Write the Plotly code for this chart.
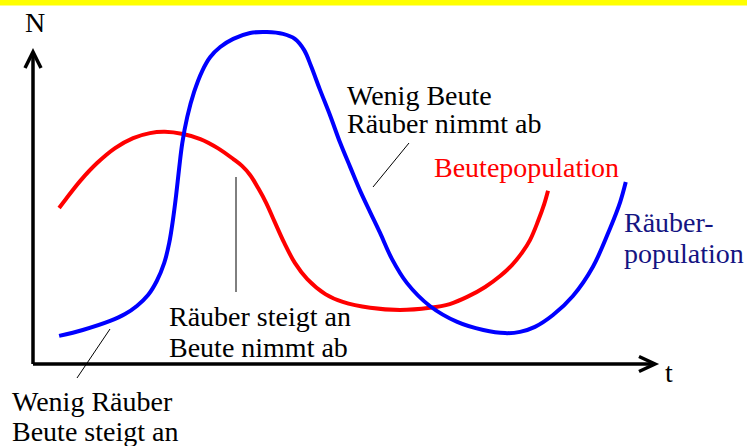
import plotly.graph_objects as go

# Beute (prey) population over time, arbitrary units
beute_t = [4.2, 5.3, 7.6, 10.3, 13.2, 16.1, 18.8, 21.2, 24.1, 26.9, 29.7, 32.2, 33.6, 34.9,
           36.2, 37.5, 38.8, 40.4, 42.1, 44.1, 47.0, 49.8, 54.2, 59.0, 63.8, 67.0, 69.8, 72.7,
           75.1, 77.0, 78.6, 79.9, 81.2, 82.2, 82.8]
beute_n = [50.0, 52.9, 58.7, 64.4, 69.2, 72.4, 74.0, 74.4, 73.7, 72.1, 69.2, 65.7, 63.5, 60.6,
           56.4, 51.6, 45.8, 38.8, 32.4, 27.2, 22.4, 19.9, 18.0, 17.3, 18.0, 19.2, 21.5, 24.7,
           28.2, 31.7, 35.6, 39.7, 45.8, 51.3, 55.5]

# Räuber (predator) population over time, arbitrary units
raeuber_t = [4.2, 8.0, 12.4, 14.8, 16.7, 18.5, 19.9, 21.1, 21.9, 22.5, 23.0, 23.5, 24.0, 24.8,
             25.9, 27.2, 28.5, 30.1, 32.2, 34.9, 37.6, 40.2, 42.1, 43.6, 44.7, 46.1, 47.8, 49.4,
             51.0, 52.6, 54.2, 55.8, 57.7, 60.1, 63.8, 68.2, 72.4, 75.9, 78.3, 80.7, 83.6, 86.8,
             90.0, 92.8, 94.4, 95.3]
raeuber_n = [9.0, 10.9, 13.8, 16.0, 18.6, 22.1, 26.6, 32.4, 38.8, 46.2, 53.9, 62.8, 70.8, 79.2,
             87.2, 93.9, 98.4, 101.6, 104.2, 106.1, 106.4, 105.8, 104.2, 100.6, 95.5, 88.1, 79.5,
             70.8, 63.1, 55.5, 48.7, 42.0, 33.7, 26.0, 18.6, 13.5, 10.9, 9.9, 10.3, 11.9, 15.7,
             21.8, 31.1, 43.6, 51.9, 58.3]

W, H = 747, 446
# origin of the N/t diagram in page pixels and pixels per unit
X0, Y0 = 33, 364
SX, SY = 6.22, 3.12

FONT = "Liberation Serif, Times New Roman, serif"
FS = 28


def to_data(xp, yp):
    return (xp - X0) / SX, (Y0 - yp) / SY


fig = go.Figure()

fig.add_trace(go.Scatter(x=beute_t, y=beute_n, mode="lines",
                         line=dict(color="#ff0000", width=4, shape="spline", smoothing=1.0),
                         hoverinfo="skip", showlegend=False))
fig.add_trace(go.Scatter(x=raeuber_t, y=raeuber_n, mode="lines",
                         line=dict(color="#0000ff", width=4, shape="spline", smoothing=1.0),
                         hoverinfo="skip", showlegend=False))

shapes = []
# yellow strip along the top edge
shapes.append(dict(type="rect", xref="paper", yref="paper", x0=0, x1=1, y0=1 - 5.5 / H, y1=1,
                   fillcolor="#ffff00", line=dict(width=0), layer="below"))

# axes with open arrowheads
ax_line = dict(color="black", width=3.5)
shapes.append(dict(type="line", x0=0, y0=0, x1=0, y1=99.5, line=ax_line))
shapes.append(dict(type="line", x0=0, y0=0, x1=99.7, y1=0, line=ax_line))
lx, ly = to_data(25, 68)
rx, _ = to_data(41, 68)
shapes.append(dict(type="path", path=f"M {lx} {ly} L 0 100 L {rx} {ly}", line=ax_line))
hx, hy1 = to_data(639, 356.5)
_, hy2 = to_data(639, 371.5)
shapes.append(dict(type="path", path=f"M {hx} {hy1} L 100 0 L {hx} {hy2}", line=ax_line))

# pointer lines from the captions to the curves
thin = dict(color="black", width=1)
for (xa, ya), (xb, yb) in [((110, 329), (77, 378)),
                           ((236, 177), (236, 292)),
                           ((409, 143), (373, 187))]:
    a = to_data(xa, ya)
    b = to_data(xb, yb)
    shapes.append(dict(type="line", x0=a[0], y0=a[1], x1=b[0], y1=b[1], line=thin))

annotations = []


def label(text, left, baseline, color="black"):
    x, _ = to_data(left, 0)
    _, y = to_data(0, baseline - 9.5)
    annotations.append(dict(text=text, x=x, y=y, xanchor="left", yanchor="middle",
                            showarrow=False, borderpad=0, borderwidth=0,
                            font=dict(family=FONT, size=FS, color=color)))


label("N", 25, 32)
label("t", 665, 382)
label("Wenig Räuber", 12, 411)
label("Beute steigt an", 12, 441)
label("Räuber steigt an", 169, 326)
label("Beute nimmt ab", 169, 357)
label("Wenig Beute", 347, 105)
label("Räuber nimmt ab", 347, 133)
label("Beutepopulation", 434, 177, "#ff0000")
label("Räuber-", 624, 232, "#141482")
label("population", 624, 263, "#141482")

fig.update_layout(
    width=W, height=H,
    margin=dict(l=0, r=0, t=0, b=0),
    paper_bgcolor="white", plot_bgcolor="white",
    xaxis=dict(range=[-X0 / SX, (W - X0) / SX], visible=False, fixedrange=True),
    yaxis=dict(range=[-(H - Y0) / SY, Y0 / SY], visible=False, fixedrange=True),
    shapes=shapes, annotations=annotations,
    showlegend=False, hovermode=False,
)

fig.write_html("out.html", config={"displayModeBar": False, "staticPlot": True})
